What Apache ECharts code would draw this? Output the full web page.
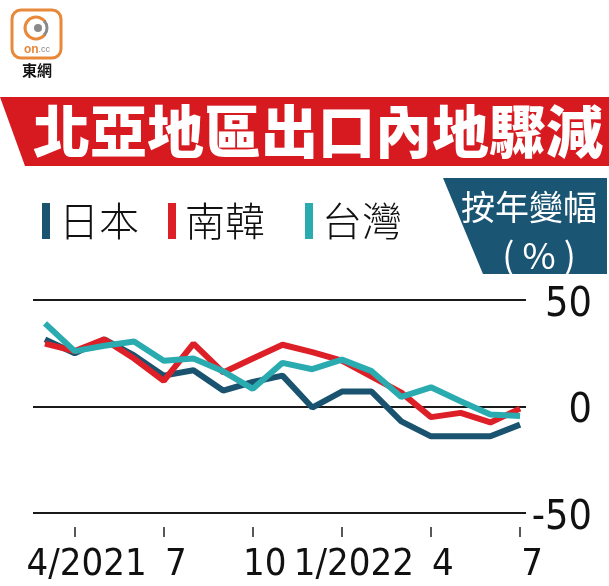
<!DOCTYPE html>
<html>
<head>
<meta charset="utf-8">
<script src="https://cdn.jsdelivr.net/npm/echarts@6/dist/echarts.min.js"></script>
<style>
html,body{margin:0;padding:0;background:#fff;}
#chart{width:609px;height:586px;}
</style>
</head>
<body>
<div id="chart"></div>
<script>
// ---- data ----
const months = ['2021-03','2021-04','2021-05','2021-06','2021-07','2021-08','2021-09','2021-10','2021-11','2021-12','2022-01','2022-02','2022-03','2022-04','2022-05','2022-06','2022-07'];
const japan  = [31.5, 25, 31.5, 24, 14.5, 17, 7.5, 11.5, 14.5, -0.5, 7, 7, -7, -14, -14, -14, -8.5];
const korea  = [29.5, 26, 31.5, 22.5, 12, 29.5, 16, 22.5, 29, 25.5, 21.5, 14, 6.5, -5, -3, -7.5, -1];
const taiwan = [39, 26, 28.5, 30.5, 21.5, 22.5, 16.5, 8.3, 20.5, 17.5, 22, 16.6, 4.5, 9, 2.5, -3.8, -4.5];
const seriesNames = ['日本', '南韓', '台灣'];
const tickMonths = ['2021-04','2021-07','2021-10','2022-01','2022-04','2022-07'];
const tickLabels = ['4/2021','7','10','1/2022','4','7'];
const title = '北亞地區出口內地驟減';
const unitLine1 = '按年變幅';
const unitLine2 = '( % )';

// ---- style ----
const C_JP = '#19536F', C_KR = '#DD2027', C_TW = '#2AABB0';
const NUM_FONT = '"DejaVu Sans Condensed","Liberation Sans Narrow",sans-serif';
const CJK = '"Noto Sans CJK TC","Noto Sans CJK SC",sans-serif';

const tickIdx = tickMonths.map(m => months.indexOf(m));
const toPairs = arr => arr.map((v, i) => [i, v]);

const chart = echarts.init(document.getElementById('chart'), null, {renderer: 'canvas'});

function legendFor(name, left) {
  return {
    data: [name], left: left, top: 196, orient: 'horizontal',
    icon: 'rect', itemWidth: 8, itemHeight: 36, itemGap: 0,
    selectedMode: false,
    textStyle: {fontFamily: CJK, fontSize: 40, fontWeight: 300, color: '#111', padding: [0, 0, 0, 4]}
  };
}

const option = {
  animation: false,
  backgroundColor: '#fff',
  legend: [legendFor('日本', 37), legendFor('南韓', 163), legendFor('台灣', 300)],
  grid: {left: 33, right: 83, top: 300, bottom: 73, containLabel: false},
  xAxis: {
    type: 'value', min: -0.404, max: 16.2,
    splitLine: {show: false},
    axisLine: {show: false, onZero: false},
    offset: 14,
    axisTick: {show: true, customValues: tickIdx, length: 10, lineStyle: {color: '#222', width: 1.5}},
    axisLabel: {
      customValues: tickIdx, margin: 19,
      fontFamily: NUM_FONT, fontSize: 38, color: '#111',
      padding: [0, 0, 0, 24],
      formatter: v => tickLabels[tickIdx.indexOf(Math.round(v))] || ''
    }
  },
  yAxis: {
    type: 'value', position: 'right', min: -50, max: 50, interval: 50,
    axisLine: {show: false}, axisTick: {show: false},
    splitLine: {show: true, lineStyle: {color: '#1a1a1a', width: 2}},
    axisLabel: {
      margin: 66, align: 'right', verticalAlign: 'top', lineHeight: 10,
      fontFamily: NUM_FONT, fontSize: 41, color: '#111'
    }
  },
  series: [
    {name: seriesNames[0], type: 'line', data: toPairs(japan), showSymbol: false, color: C_JP, lineStyle: {width: 6, color: C_JP}, z: 2},
    {name: seriesNames[1], type: 'line', data: toPairs(korea), showSymbol: false, color: C_KR, lineStyle: {width: 6, color: C_KR}, z: 3},
    {name: seriesNames[2], type: 'line', data: toPairs(taiwan), showSymbol: false, color: C_TW, lineStyle: {width: 6, color: C_TW}, z: 4}
  ],
  graphic: [
    // logo
    {type: 'rect', shape: {x: 12, y: 10, width: 49, height: 48, r: 9}, style: {fill: '#fff', stroke: '#E8883A', lineWidth: 3}},
    {type: 'arc', shape: {cx: 36, cy: 28, r: 11, startAngle: 0.6, endAngle: 5.7}, style: {stroke: '#E8883A', lineWidth: 3, fill: null}},
    {type: 'arc', shape: {cx: 36, cy: 28, r: 11, startAngle: -0.7, endAngle: 0.7}, style: {stroke: '#8a8a8a', lineWidth: 3, fill: null}},
    {type: 'circle', shape: {cx: 38, cy: 28, r: 4}, style: {fill: '#8a8a8a'}},
    {type: 'text', x: 37, y: 50, style: {text: '{a|on}{b|.cc}', align: 'center', verticalAlign: 'middle',
      rich: {a: {fill: '#E8883A', fontSize: 12, fontWeight: 'bold', fontFamily: 'Liberation Sans'}, b: {fill: '#888', fontSize: 9, fontFamily: 'Liberation Sans'}}}},
    {type: 'text', x: 37, y: 70, style: {text: '東網', align: 'center', verticalAlign: 'middle', fontSize: 15, fontWeight: 'bold', fontFamily: CJK, fill: '#111'}},
    // title banner
    {type: 'polygon', shape: {points: [[0, 97], [609, 97], [609, 166], [25, 166]]}, style: {fill: '#D71920'}},
    {type: 'text', x: 318, y: 131, style: {text: title, align: 'center', verticalAlign: 'middle', fontSize: 57, fontWeight: 900, fontFamily: CJK, fill: '#fff'}},
    // unit box
    {type: 'polygon', shape: {points: [[443, 178], [607, 178], [607, 274], [483, 274]]}, style: {fill: '#1A5573'}},
    {type: 'text', x: 529, y: 207, style: {text: unitLine1, align: 'center', verticalAlign: 'middle', fontSize: 34, fontFamily: CJK, fill: '#fff'}},
    {type: 'text', x: 539, y: 255, style: {text: unitLine2, align: 'center', verticalAlign: 'middle', fontSize: 36, fontFamily: CJK, fill: '#fff'}}
  ]
};
chart.setOption(option);
</script>
</body>
</html>
